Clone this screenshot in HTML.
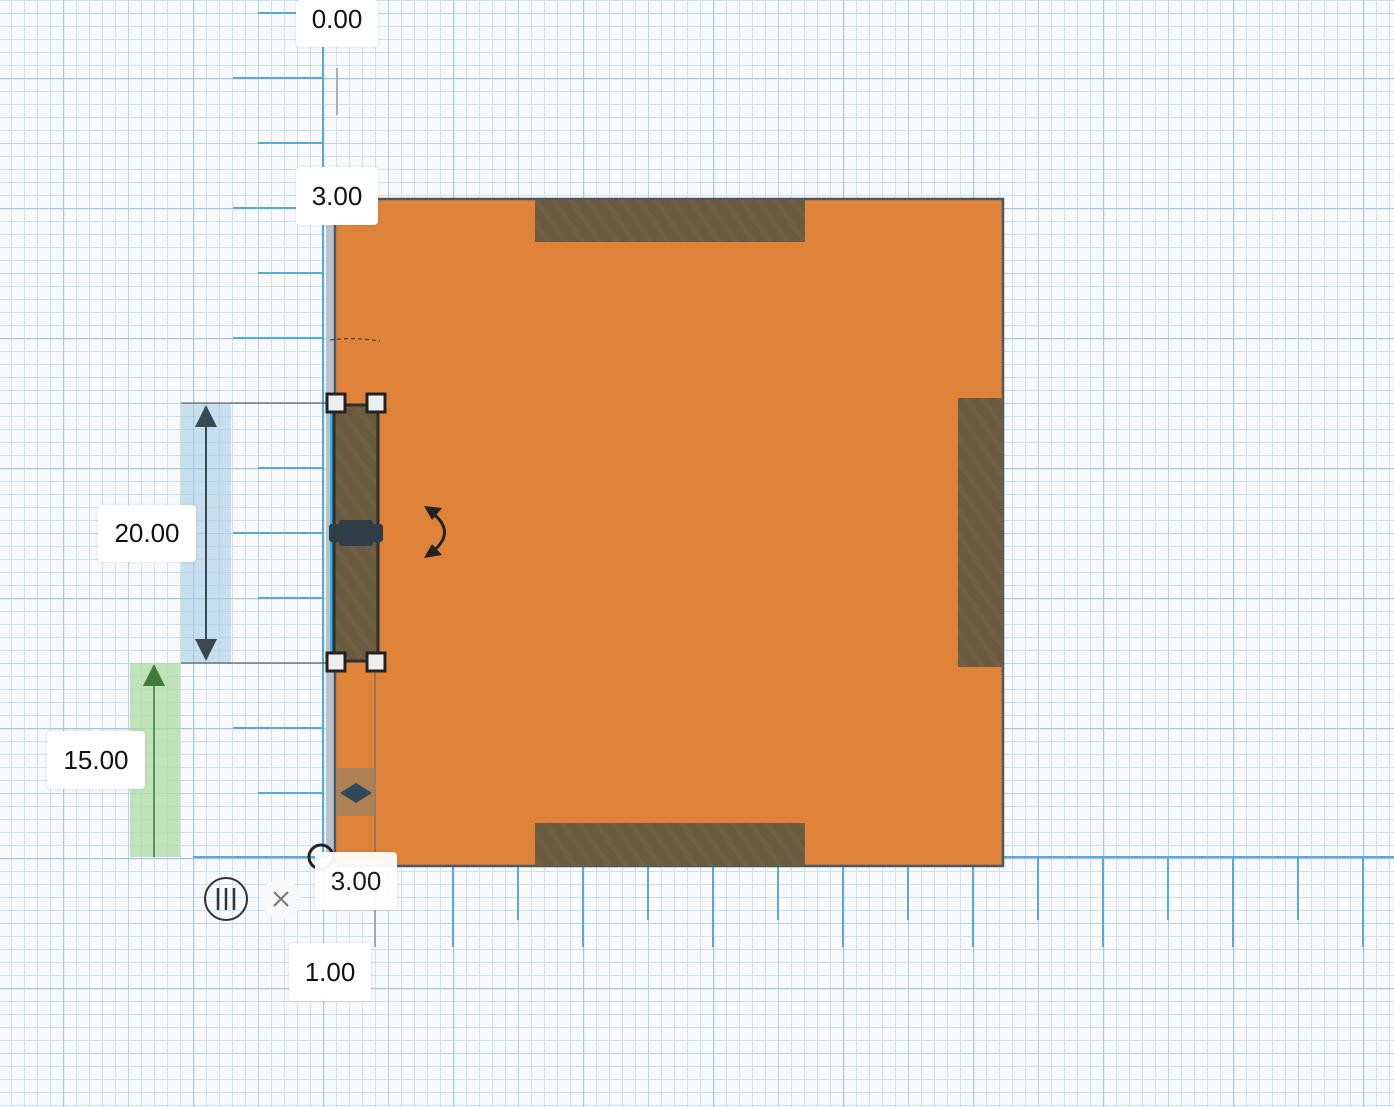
<!DOCTYPE html>
<html><head><style>
body{margin:0;width:1394px;height:1107px;overflow:hidden;background:#f7f9fb;font-family:"Liberation Sans",sans-serif;}
.lbl{position:absolute;background:#fff;border-radius:4px;box-shadow:0 0 3px rgba(0,0,0,.12);font-size:26px;color:#111;text-align:center;}
</style></head><body>
<svg width="1394" height="1107" style="position:absolute;left:0;top:0">
<defs>
<pattern id="mn" width="13" height="13" patternUnits="userSpaceOnUse" x="11" y="0">
<path d="M0 0.5H13M0.5 0V13" stroke="#cfe1ee" stroke-width="1" fill="none"/></pattern>
<pattern id="md" width="65" height="65" patternUnits="userSpaceOnUse" x="63" y="13">
<path d="M0 0.5H65M0.5 0V65" stroke="#b9d5e8" stroke-width="1" fill="none"/></pattern>
<pattern id="mj" width="130" height="130" patternUnits="userSpaceOnUse" x="63" y="78">
<path d="M0 0.5H130M0.5 0V130" stroke="#a5c9e2" stroke-width="1.5" fill="none"/></pattern>
<pattern id="hatch" width="14" height="14" patternUnits="userSpaceOnUse" patternTransform="rotate(-35)">
<rect width="14" height="14" fill="#6a5a3f"/><rect width="5" height="14" fill="#705f42"/></pattern>
</defs>
<rect width="1394" height="1107" fill="#f7f9fb"/>
<rect width="1394" height="1107" fill="url(#mn)"/>
<rect width="1394" height="1107" fill="url(#md)"/>
<rect width="1394" height="1107" fill="url(#mj)"/>
<!-- axes -->
<line x1="323" y1="0" x2="323" y2="860" stroke="#5aa8d8" stroke-width="2"/>
<line x1="193" y1="857" x2="1394" y2="857" stroke="#5aa8d8" stroke-width="2"/>
<g stroke="#5aa8d8" stroke-width="2">
<line x1="258" y1="13" x2="323" y2="13"/><line x1="233" y1="78" x2="323" y2="78"/>
<line x1="258" y1="143" x2="323" y2="143"/><line x1="233" y1="208" x2="323" y2="208"/>
<line x1="258" y1="273" x2="323" y2="273"/><line x1="233" y1="338" x2="323" y2="338"/>
<line x1="258" y1="468" x2="323" y2="468"/><line x1="233" y1="533" x2="323" y2="533"/>
<line x1="258" y1="598" x2="323" y2="598"/><line x1="233" y1="728" x2="323" y2="728"/>
<line x1="258" y1="793" x2="323" y2="793"/>
<line x1="453" y1="866" x2="453" y2="947"/><line x1="518" y1="866" x2="518" y2="920"/>
<line x1="583" y1="866" x2="583" y2="947"/><line x1="648" y1="866" x2="648" y2="920"/>
<line x1="713" y1="866" x2="713" y2="947"/><line x1="778" y1="866" x2="778" y2="920"/>
<line x1="843" y1="866" x2="843" y2="947"/><line x1="908" y1="866" x2="908" y2="920"/>
<line x1="973" y1="866" x2="973" y2="947"/><line x1="1038" y1="857" x2="1038" y2="920"/>
<line x1="1103" y1="857" x2="1103" y2="947"/><line x1="1168" y1="857" x2="1168" y2="920"/>
<line x1="1233" y1="857" x2="1233" y2="947"/><line x1="1298" y1="857" x2="1298" y2="920"/>
<line x1="1363" y1="857" x2="1363" y2="947"/>
</g>
<line x1="337" y1="68" x2="337" y2="115" stroke="#999" stroke-width="1.5"/>
<!-- dimension bands -->
<rect x="181" y="403" width="50" height="260" fill="#a9cde6" opacity=".6"/>
<rect x="130" y="663" width="50" height="194" fill="#a6dca0" opacity=".7"/>
<line x1="181" y1="403" x2="333" y2="403" stroke="#444" stroke-width="1"/>
<line x1="181" y1="663" x2="333" y2="663" stroke="#444" stroke-width="1"/>
<line x1="206" y1="420" x2="206" y2="645" stroke="#3a4a55" stroke-width="2"/>
<polygon points="206,405 195,427 217,427" fill="#3a4a55"/>
<polygon points="206,661 195,639 217,639" fill="#3a4a55"/>
<line x1="154" y1="680" x2="154" y2="857" stroke="#3f7a3a" stroke-width="1.5"/>
<polygon points="154,664 143,686 165,686" fill="#3f7a3a"/>
<!-- main box -->
<rect x="326" y="198" width="10" height="668" fill="#b8c4cc"/>
<rect x="335" y="199" width="668" height="667" fill="#df833a" stroke="#4b5863" stroke-width="2.5"/>
<rect x="535" y="200" width="270" height="42" fill="url(#hatch)"/>
<rect x="535" y="823" width="270" height="43" fill="url(#hatch)"/>
<rect x="958" y="398" width="45" height="269" fill="url(#hatch)"/>
<path d="M330 340 Q355 337 380 341" stroke="#333" stroke-dasharray="4,3" fill="none"/>
<line x1="375" y1="663" x2="375" y2="947" stroke="#666" stroke-width="1"/>
<rect x="336" y="768" width="40" height="48" fill="#a0805c" opacity=".8"/>
<polygon points="340,793 356,783 372,793 356,803" fill="#2f4958"/>
<!-- selected -->
<rect x="330" y="408" width="4" height="250" fill="#35aee8"/>
<rect x="334" y="405" width="44" height="256" fill="url(#hatch)" stroke="#2a2f33" stroke-width="3"/>
<rect x="329" y="524" width="54" height="18" rx="3" fill="#2f3e46"/>
<rect x="339" y="520" width="34" height="26" rx="3" fill="#2f3e46"/>
<g fill="#eee" stroke="#222" stroke-width="3">
<rect x="327" y="394" width="18" height="18"/><rect x="367" y="394" width="18" height="18"/>
<rect x="327" y="653" width="18" height="18"/><rect x="367" y="653" width="18" height="18"/>
</g>
<path d="M431 512 Q458 532 431 553" stroke="#222" stroke-width="3" fill="none"/>
<polygon points="424,506 442,508 432,520" fill="#222"/>
<polygon points="424,558 442,555 432,544" fill="#222"/>
<circle cx="321" cy="857" r="12" fill="none" stroke="#222" stroke-width="3"/>
<circle cx="226" cy="899" r="21" fill="none" stroke="#333" stroke-width="2"/>
<g stroke="#333" stroke-width="2.5"><line x1="218" y1="888" x2="218" y2="910"/><line x1="226" y1="888" x2="226" y2="910"/><line x1="234" y1="888" x2="234" y2="910"/></g>
<circle cx="281" cy="899" r="20" fill="#f8f8f8"/>
<g stroke="#777" stroke-width="2"><line x1="274" y1="892" x2="288" y2="906"/><line x1="288" y1="892" x2="274" y2="906"/></g>
</svg>
<div class="lbl" style="left:296px;top:0;width:82px;height:47px;line-height:38px;">0.00</div>
<div class="lbl" style="left:296px;top:167px;width:82px;height:58px;line-height:58px;">3.00</div>
<div class="lbl" style="left:98px;top:505px;width:98px;height:57px;line-height:57px;">20.00</div>
<div class="lbl" style="left:47px;top:731px;width:98px;height:58px;line-height:58px;">15.00</div>
<div class="lbl" style="left:315px;top:852px;width:82px;height:58px;line-height:58px;opacity:.95">3.00</div>
<div class="lbl" style="left:289px;top:943px;width:82px;height:58px;line-height:58px;">1.00</div>
</body></html>
